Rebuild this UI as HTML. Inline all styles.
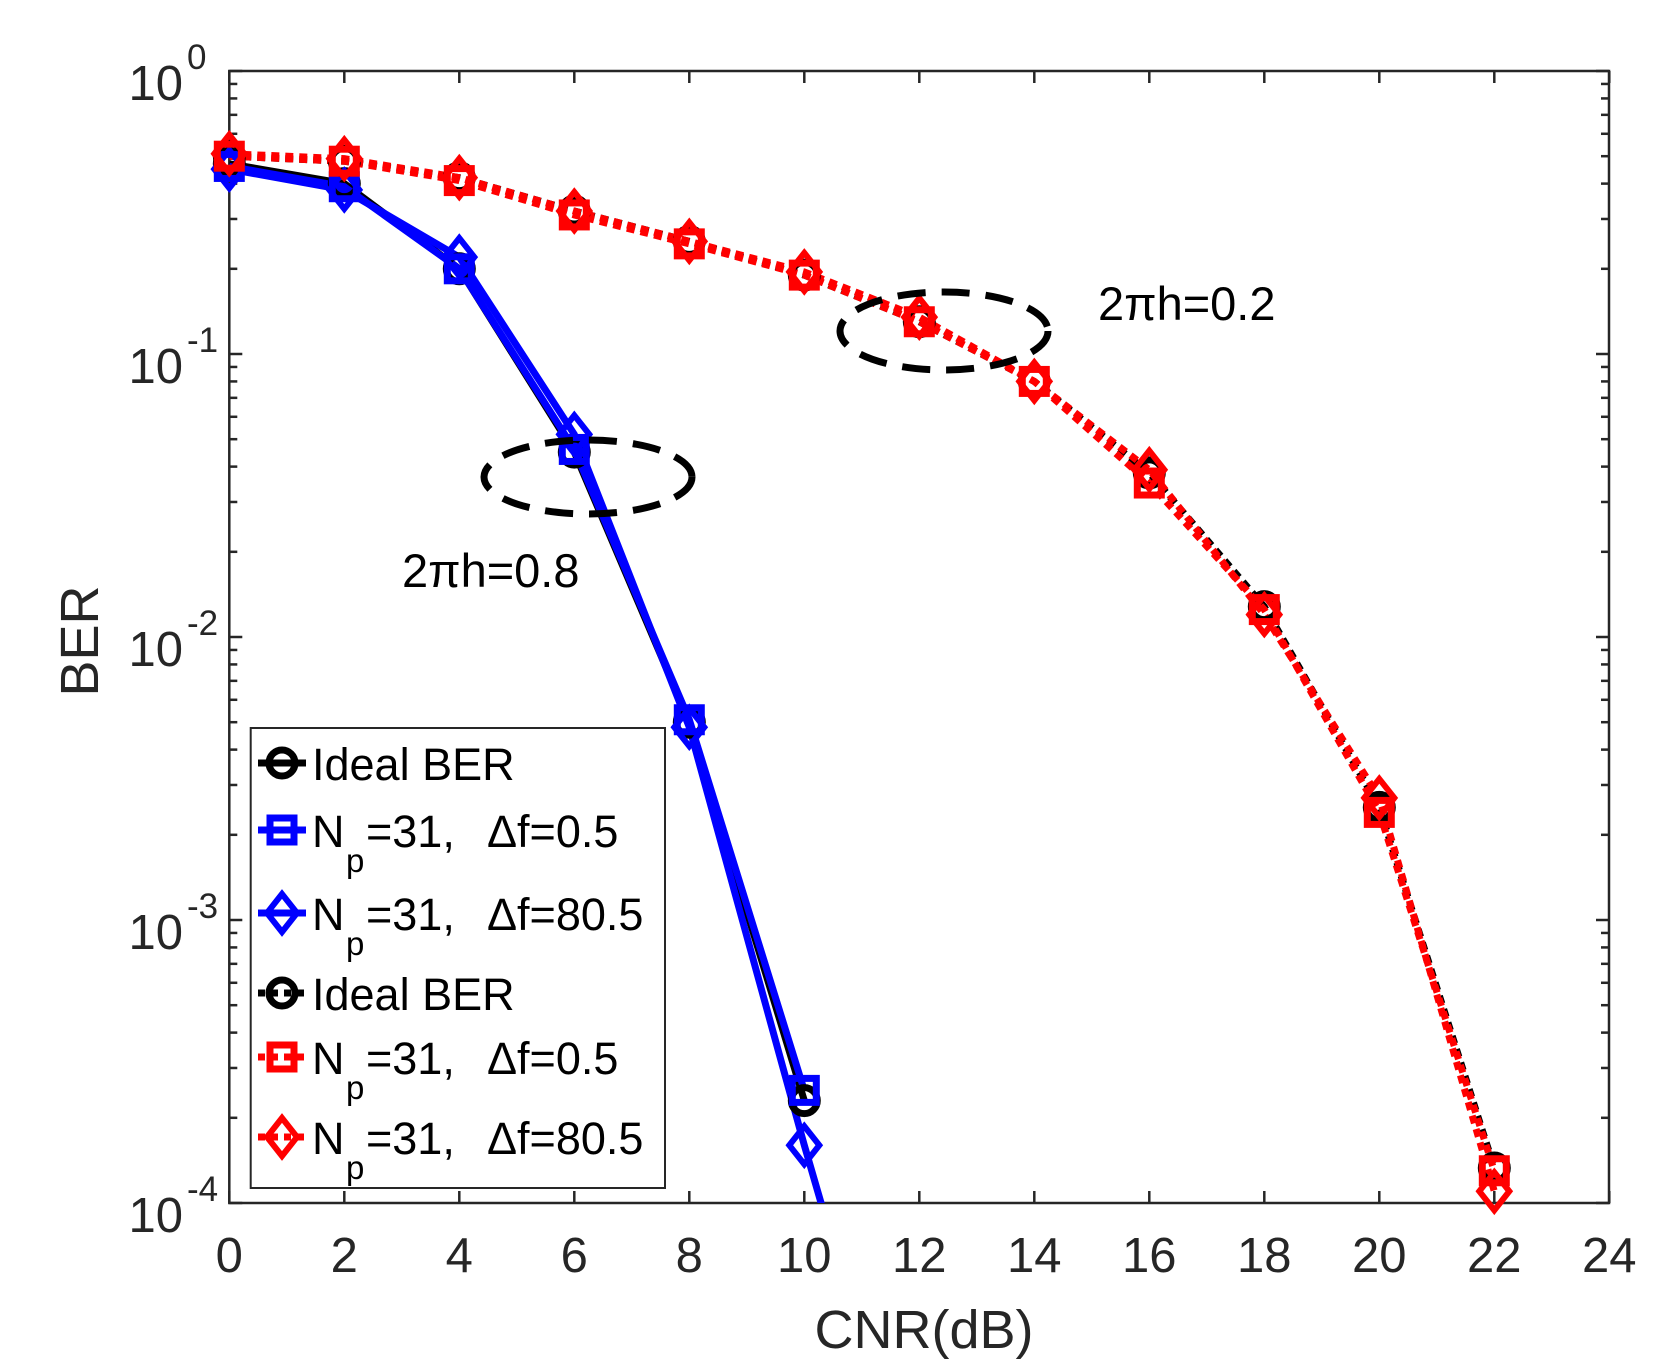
<!DOCTYPE html>
<html><head><meta charset="utf-8"><style>html,body{margin:0;padding:0;background:#fff}svg{display:block}text{font-family:"Liberation Sans",sans-serif;fill:#262626}</style></head>
<body>
<svg width="1667" height="1366" viewBox="0 0 1667 1366" xmlns="http://www.w3.org/2000/svg">
<rect x="0" y="0" width="1667" height="1366" fill="#fff"/>
<g id="ticks" stroke="#262626" stroke-width="2.5" fill="none">
<rect x="229.3" y="71" width="1379.7" height="1132"/>
</g>
<g id="xt" font-size="49" text-anchor="middle"></g>
<g id="yt"></g>
<g id="data"></g>
<text x="80" y="641" font-size="54" text-anchor="middle" transform="rotate(-90 80 641)" dy="18">BER</text>
<text x="924" y="1348" font-size="54" text-anchor="middle">CNR(dB)</text>
<text x="1098" y="320" font-size="47" style="fill:#000">2πh=0.2</text>
<text x="402" y="587" font-size="47" style="fill:#000">2πh=0.8</text>
<ellipse cx="944" cy="331" rx="104" ry="39" fill="none" stroke="#000" stroke-width="7" stroke-dasharray="28,16"/>
<ellipse cx="588" cy="477" rx="104" ry="37" fill="none" stroke="#000" stroke-width="7" stroke-dasharray="28,16"/>
<g id="legend"></g>
</svg>
<script>
const NS="http://www.w3.org/2000/svg";
function el(p,t,a,txt){const e=document.createElementNS(NS,t);for(const k in a)e.setAttribute(k,a[k]);if(txt!==undefined)e.textContent=txt;p.appendChild(e);return e;}
const X=v=>229.3+57.5*v, Y=b=>71-283*Math.log10(b);
const tk=document.getElementById('ticks'),xt=document.getElementById('xt'),yt=document.getElementById('yt');
for(let v=0;v<=24;v+=2){el(tk,'line',{x1:X(v),x2:X(v),y1:1203,y2:1191});el(tk,'line',{x1:X(v),x2:X(v),y1:71,y2:83});el(xt,'text',{x:X(v),y:1272},String(v));}
for(let d=0;d>=-4;d--){for(let m=1;m<=9;m++){const b=m*Math.pow(10,d);if(b>1.0001||b<0.99e-4)continue;const y=Y(b);const L=m==1?13:8;el(tk,'line',{x1:229.3,x2:229.3+L,y1:y,y2:y});el(tk,'line',{x1:1609,x2:1609-L,y1:y,y2:y});}
const y=Y(Math.pow(10,d));el(yt,'text',{x:183,y:y+29,'font-size':49,'text-anchor':'end'},'10');
el(yt,'text',{x:187,y:y-2,'font-size':35},String(d));}
const g=document.getElementById('data');
function pts(a){return a.map(p=>X(p[0])+','+Y(p[1])).join(' ');}
function mk(p,type,x,y,c){if(type=='o')el(p,'circle',{cx:x,cy:y,r:13,fill:'none',stroke:c,'stroke-width':7});
else if(type=='s')el(p,'rect',{x:x-12,y:y-12,width:24,height:24,fill:'none',stroke:c,'stroke-width':7});
else el(p,'polygon',{points:`${x},${y-19} ${x+15},${y} ${x},${y+19} ${x-15},${y}`,fill:'none',stroke:c,'stroke-width':6});}
const cl=el(el(g,'defs',{}),'clipPath',{id:'c'});el(cl,'rect',{x:229.3,y:71,width:1379.7,height:1132});
const gc=el(g,'g',{'clip-path':'url(#c)'});
const ser=[
{c:'#000',m:'o',d:[[0,.47],[2,.4],[4,.2],[6,.045],[8,.005],[10,.00023]],dash:null},
{c:'#0000ff',m:'s',d:[[0,.46],[2,.39],[4,.2],[6,.046],[8,.0051],[10,.00025]],dash:null},
{c:'#0000ff',m:'d',d:[[0,.45],[2,.38],[4,.22],[6,.052],[8,.0048],[10,.00016],[11,.000032]],dash:null},
{c:'#000',m:'o',d:[[0,.5],[2,.48],[4,.42],[6,.32],[8,.25],[10,.19],[12,.13],[14,.08],[16,.038],[18,.0128],[20,.0025],[22,.000133]],dash:'8,6'},
{c:'#ff0000',m:'s',d:[[0,.5],[2,.48],[4,.41],[6,.31],[8,.245],[10,.19],[12,.13],[14,.08],[16,.035],[18,.0125],[20,.0024],[22,.00013]],dash:'8,6'},
{c:'#ff0000',m:'d',d:[[0,.51],[2,.49],[4,.42],[6,.32],[8,.25],[10,.195],[12,.135],[14,.08],[16,.039],[18,.012],[20,.0027],[22,.00011]],dash:'8,6'}];
for(const s of ser){const a={points:pts(s.d),fill:'none',stroke:s.c,'stroke-width':s.dash?7:7};if(s.dash)a['stroke-dasharray']=s.dash;el(gc,'polyline',a);}
for(const s of ser){for(const p of s.d){if(p[1]<9e-5)continue;mk(g,s.m,X(p[0]),Y(p[1]),s.c);}}
const lg=document.getElementById('legend');
el(lg,'rect',{x:250.7,y:728,width:414.3,height:460,fill:'#fff',stroke:'#262626','stroke-width':2});
const ent=[['#000','o',763,null,'Ideal BER'],['#0000ff','s',830,null,'0.5'],['#0000ff','d',913,null,'80.5'],['#000','o',993,'7,6','Ideal BER'],['#ff0000','s',1057,'7,6','0.5'],['#ff0000','d',1137,'7,6','80.5']];
for(const e of ent){const a={x1:258,x2:306,y1:e[2],y2:e[2],stroke:e[0],'stroke-width':7};if(e[3])a['stroke-dasharray']=e[3];el(lg,'line',a);mk(lg,e[1],282,e[2],e[0]);
if(e[4]=='Ideal BER'){el(lg,'text',{x:312,y:e[2]+17,'font-size':45,style:'fill:#000'},'Ideal BER');}
else{el(lg,'text',{x:312,y:e[2]+17,'font-size':45,style:'fill:#000'},'N');el(lg,'text',{x:346,y:e[2]+42,'font-size':33,style:'fill:#000'},'p');el(lg,'text',{x:366,y:e[2]+17,'font-size':45,style:'fill:#000'},'=31,');el(lg,'text',{x:487,y:e[2]+17,'font-size':45,style:'fill:#000'},'Δf='+e[4]);}}
</script>
</body></html>
